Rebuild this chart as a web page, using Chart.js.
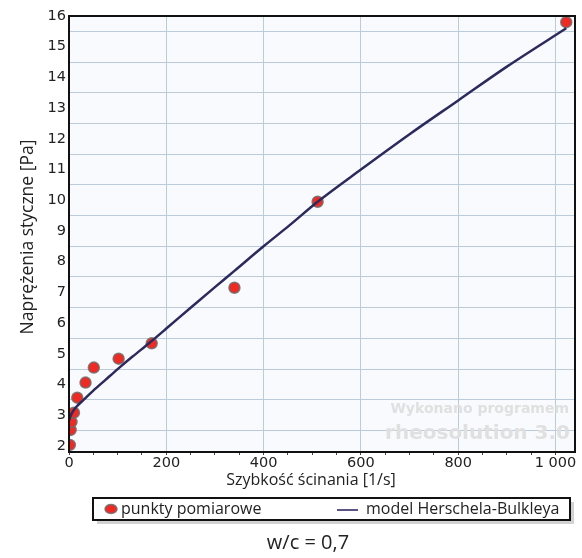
<!DOCTYPE html>
<html>
<head>
<meta charset="utf-8">
<script src="https://cdn.jsdelivr.net/npm/chart.js@4.4.0/dist/chart.umd.min.js"></script>
<style>
  html, body { margin: 0; padding: 0; background: #fff; }
  canvas { display: block; }
</style>
</head>
<body>
<canvas id="myChart" width="582" height="558"></canvas>
<script>
// measured points (shear rate [1/s], shear stress [Pa])
var shearRate = [1.7, 3.4, 5.1, 10.2, 17, 34, 51, 102, 170, 340, 511, 1022];
var stress = [2.03, 2.52, 2.78, 3.08, 3.57, 4.06, 4.55, 4.84, 5.34, 7.15, 9.95, 15.8];

// model curve
var modelRate = [0, 2, 6, 14, 30, 50, 75, 100, 130, 165, 200, 250, 300, 340, 400, 453, 511, 600, 700, 800, 900, 1022];
var modelStress = [2.82, 2.92, 3.07, 3.25, 3.5, 3.8, 4.15, 4.5, 4.9, 5.35, 5.82, 6.5, 7.17, 7.7, 8.5, 9.18, 9.95, 11.0, 12.15, 13.25, 14.35, 15.6];

// tick positions
var xTicks = [0, 50, 100, 150, 200, 250, 300, 350, 400, 450, 500, 550, 600, 650, 700, 750, 800, 850, 900, 950, 1000];
var xLabelled = [0, 200, 400, 600, 800, 1000];
var yTicks = [2, 2.5, 3, 3.5, 4, 4.5, 5, 5.5, 6, 6.5, 7, 7.5, 8, 8.5, 9, 9.5, 10, 10.5, 11, 11.5, 12, 12.5, 13, 13.5, 14, 14.5, 15, 15.5, 16];

var seriesNames = ['punkty pomiarowe', 'model Herschela-Bulkleya'];
var xTitle = 'Szybkość ścinania [1/s]';
var yTitle = 'Naprężenia styczne [Pa]';
var caption = 'w/c = 0,7';
var watermark = ['Wykonano programem', 'rheosolution 3.0'];

function toXY(xs, ys) {
  return xs.map(function (x, i) { return {x: x, y: ys[i]}; });
}

var pointRed = '#ee2a24';
var pointEdge = 'rgba(110,110,110,0.85)';
var lineColor = '#2b2a5c';
var gridColor = '#bccbd9';

var decorations = {
  id: 'decorations',
  beforeDraw: function (chart) {
    var ctx = chart.ctx, a = chart.chartArea;
    ctx.save();
    ctx.fillStyle = '#f9fafd';
    ctx.fillRect(a.left, a.top, a.right - a.left, a.bottom - a.top);
    ctx.restore();
  },
  beforeDatasetsDraw: function (chart) {
    var ctx = chart.ctx;
    ctx.save();
    ctx.fillStyle = '#e0e0e0';
    ctx.textAlign = 'right';
    ctx.textBaseline = 'middle';
    ctx.font = 'bold 14px "DejaVu Sans"';
    ctx.fillText(watermark[0], 569, 409);
    ctx.font = 'bold 20px "DejaVu Sans"';
    ctx.fillText(watermark[1], 570, 434);
    ctx.restore();
  },
  afterDraw: function (chart) {
    var ctx = chart.ctx, a = chart.chartArea;
    ctx.save();
    // frame
    ctx.strokeStyle = '#111';
    ctx.lineWidth = 2;
    ctx.strokeRect(a.left, a.top, a.right - a.left, a.bottom - a.top);

    // axis titles
    ctx.fillStyle = '#222';
    ctx.textAlign = 'center';
    ctx.textBaseline = 'middle';
    ctx.font = '16px "Open Sans"';
    ctx.fillText(xTitle, 311, 480);
    ctx.save();
    ctx.translate(28, 237);
    ctx.rotate(-Math.PI / 2);
    ctx.font = '17.5px "Open Sans"';
    ctx.fillText(yTitle, 0, 0);
    ctx.restore();

    // legend box
    var lx = 93, ly = 498, lw = 477, lh = 22;
    ctx.fillStyle = '#d2d2d2';
    ctx.fillRect(lx + 4, ly + 4, lw, lh);
    ctx.fillStyle = '#fff';
    ctx.fillRect(lx, ly, lw, lh);
    ctx.strokeStyle = '#111';
    ctx.lineWidth = 2;
    ctx.strokeRect(lx, ly, lw, lh);

    var ds = chart.data.datasets;
    ctx.beginPath();
    ctx.ellipse(111, 509, 6, 4.5, 0, 0, Math.PI * 2);
    ctx.fillStyle = pointRed;
    ctx.fill();
    ctx.lineWidth = 1.5;
    ctx.strokeStyle = pointEdge;
    ctx.stroke();
    ctx.fillStyle = '#222';
    ctx.textAlign = 'left';
    ctx.font = '16px "Open Sans"';
    ctx.fillText(ds[0].label, 121, 509);

    ctx.beginPath();
    ctx.moveTo(337, 510);
    ctx.lineTo(358, 510);
    ctx.strokeStyle = '#5a5585';
    ctx.lineWidth = 2;
    ctx.stroke();
    ctx.fillText(ds[1].label, 366, 509);

    // caption
    ctx.textAlign = 'center';
    ctx.font = '20px "Open Sans"';
    ctx.fillText(caption, 308, 543);
    ctx.restore();
  }
};

var ctx = document.getElementById('myChart');
var chart = new Chart(ctx, {
  type: 'scatter',
  data: {
    datasets: [
      {
        label: seriesNames[0],
        data: toXY(shearRate, stress),
        backgroundColor: pointRed,
        borderColor: pointEdge,
        borderWidth: 1.5,
        pointRadius: 5.5,
        order: 1
      },
      {
        label: seriesNames[1],
        data: toXY(modelRate, modelStress),
        showLine: true,
        borderColor: lineColor,
        borderWidth: 2.5,
        pointRadius: 0,
        cubicInterpolationMode: 'monotone',
        order: 0
      }
    ]
  },
  options: {
    responsive: false,
    animation: false,
    layout: {padding: {left: 0, top: 16, right: 6, bottom: 0}},
    plugins: {
      legend: {display: false},
      tooltip: {enabled: false}
    },
    scales: {
      x: {
        type: 'linear',
        min: 0,
        max: 1040,
        afterFit: function (scale) { scale.height = 106; },
        afterBuildTicks: function (scale) {
          scale.ticks = xTicks.map(function (v) { return {value: v}; });
        },
        ticks: {
          autoSkip: false,
          maxRotation: 0,
          padding: 0,
          color: '#222',
          font: {family: 'DejaVu Sans', size: 14.5},
          callback: function (v) {
            if (xLabelled.indexOf(v) < 0) return '';
            return String(v).replace(/\B(?=(\d{3})+(?!\d))/g, ' ');
          }
        },
        grid: {
          color: function (c) {
            var v = c.tick && c.tick.value;
            return (v > 0 && xLabelled.indexOf(v) >= 0) ? gridColor : 'rgba(0,0,0,0)';
          },
          borderDash: [1, 2],
          tickColor: '#444',
          tickLength: 3,
          tickBorderDash: []
        },
        border: {color: '#111', width: 2}
      },
      y: {
        type: 'linear',
        min: 1.8,
        max: 16,
        afterFit: function (scale) { scale.width = 69; },
        afterBuildTicks: function (scale) {
          scale.ticks = yTicks.map(function (v) { return {value: v}; });
        },
        ticks: {
          autoSkip: false,
          padding: 3,
          color: '#222',
          font: {family: 'DejaVu Sans', size: 14.5},
          callback: function (v) {
            return Math.abs(v - Math.round(v)) < 1e-6 ? String(Math.round(v)) : '';
          }
        },
        grid: {
          color: function (c) {
            var v = c.tick && c.tick.value;
            return Math.abs(v - Math.floor(v) - 0.5) < 1e-6 ? gridColor : 'rgba(0,0,0,0)';
          },
          borderDash: [1, 2],
          drawTicks: false
        },
        border: {color: '#111', width: 2}
      }
    }
  },
  plugins: [decorations]
});
</script>
</body>
</html>
